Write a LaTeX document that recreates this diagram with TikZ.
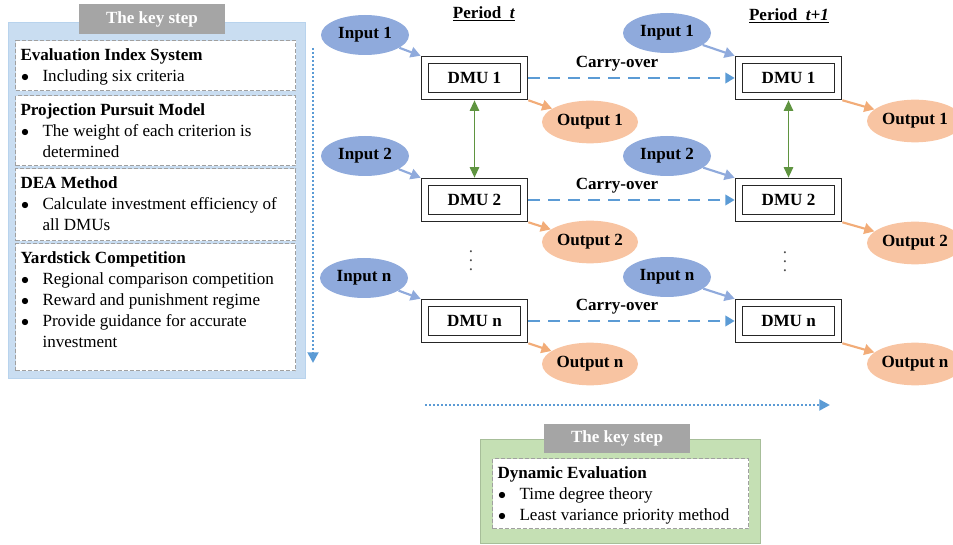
\documentclass[tikz,border=0pt]{standalone}
\usepackage{fontspec}
\setmainfont{Liberation Serif}
\usetikzlibrary{positioning, arrows.meta, shapes}
\definecolor{panelblue}{HTML}{C9DDF1}
\definecolor{panelgreen}{HTML}{C5E0B4}
\definecolor{tabgray}{HTML}{A5A5A5}
\definecolor{boxgray}{HTML}{A0A0A0}
\definecolor{inblue}{HTML}{8FAADC}
\definecolor{outpeach}{HTML}{F8C4A2}
\definecolor{outarrow}{HTML}{F2AC78}
\definecolor{flowblue}{HTML}{5B9BD5}
\definecolor{linkgreen}{HTML}{5F9440}

\newcommand{\stepbul}{\\\makebox[16.5pt][l]{\hspace{0.5pt}$\bullet$}}
\newcommand{\stepcont}{\\\hspace*{16.5pt}}
\newcommand{\steptext}[3]{\parbox[c][#1][t]{#2}{\raggedright\rule{0pt}{15pt}#3}}
\newcommand{\dmudots}{\vbox{\baselineskip=6.75pt\lineskiplimit=-5pt\hbox{.}\hbox{.}\hbox{.}}}

\begin{document}
\begin{tikzpicture}[x=0.75pt, y=-0.75pt,
    execute at begin picture={\fontsize{12.8pt}{15.75pt}\selectfont},
    keypanel/.style={anchor=north west, inner sep=0pt, line width=0.8pt},
    keytab/.style={fill=tabgray, text=white, font=\bfseries, minimum width=109.5pt, minimum height=22.5pt, inner sep=0pt},
    stepbox/.style={anchor=north west, draw=boxgray, dash pattern=on 3pt off 1.5pt, line width=0.8pt, fill=white, inner xsep=3.75pt, inner ysep=0pt},
    inp/.style={ellipse, fill=inblue, minimum width=66pt, minimum height=30pt, inner sep=0pt, font=\bfseries},
    outp/.style={ellipse, fill=outpeach, minimum width=72pt, minimum height=32pt, inner sep=0pt, font=\bfseries},
    dmu/.style={draw=black!85, double, double distance=4.6pt, line width=0.6pt, fill=white, minimum width=74pt, minimum height=26.6pt, inner sep=0pt, outer sep=3.4pt, font=\bfseries},
    inarrow/.style={-{Triangle[length=7.5pt,width=8pt]}, line width=1.6pt, draw=inblue},
    outarrow/.style={-{Triangle[length=7.5pt,width=8pt]}, line width=1.6pt, draw=outarrow},
    linkarrow/.style={{Triangle[length=8pt,width=7pt]}-{Triangle[length=8pt,width=7pt]}, line width=1.4pt, draw=linkgreen},
    carry/.style={-{Triangle[length=7pt,width=8pt]}, line width=1.3pt, draw=flowblue, dash pattern=on 9pt off 6pt},
    carrylabel/.style={pos=0.43, above, font=\bfseries, text=black},
    flow/.style={-{Triangle[length=8pt,width=8pt]}, line width=2pt, draw=flowblue, dash pattern=on 1.5pt off 1.5pt}]
  \useasboundingbox (0,0) rectangle (953,545);

  % left panel: the key steps
  \node[keypanel, fill=panelblue, draw=panelblue!85!flowblue, minimum width=222.75pt, minimum height=267pt] (leftpanel) at (8,22) {};
  \node[stepbox] (eis) at (15,40) {\steptext{37.5pt}{202.5pt}{\textbf{Evaluation Index System}\stepbul Including six criteria}};
  \node[stepbox] (ppm) at (15,95) {\steptext{52.5pt}{202.5pt}{\textbf{Projection Pursuit Model}\stepbul The weight of each criterion is\stepcont determined}};
  \node[stepbox] (dea) at (15,168) {\steptext{54pt}{202.5pt}{\textbf{DEA Method}\stepbul Calculate investment efficiency of\stepcont all DMUs}};
  \node[stepbox] (ysc) at (15,243) {\steptext{95.25pt}{202.5pt}{\textbf{Yardstick Competition}\stepbul Regional comparison competition\stepbul Reward and punishment regime\stepbul Provide guidance for accurate\stepcont investment}};
  \node[keytab] (tabL) at (152,19) {The key step};
  \coordinate (flowtop) at (313,48);
  \coordinate (flowbot) at (313,363);
  \draw[flow] (flowtop) -- (flowbot);

  % periods
  \node[font=\bfseries] (pert) at (484,14) {\underline{Period\ \ \textit{t}}};
  \node[font=\bfseries] (pernext) at (789,16) {\underline{Period\ \ \textit{t+1}}};

  \node[inp] (in1a) at (365,35) {Input 1};
  \node[inp] (in2a) at (365,156) {Input 2};
  \node[inp] (inna) at (364,278) {Input n};
  \node[inp] (in1b) at (667,33) {Input 1};
  \node[inp] (in2b) at (667,156) {Input 2};
  \node[inp] (innb) at (667,277) {Input n};

  \node[dmu] (dmu1a) at (474.5,78) {DMU 1};
  \node[dmu] (dmu2a) at (474.5,200) {DMU 2};
  \node[dmu] (dmuna) at (474.5,321) {DMU n};
  \node[dmu] (dmu1b) at (788.5,78) {DMU 1};
  \node[dmu] (dmu2b) at (788.5,200) {DMU 2};
  \node[dmu] (dmunb) at (788.5,321) {DMU n};

  \node[outp] (out1a) at (590,122) {Output 1};
  \node[outp] (out2a) at (590,242) {Output 2};
  \node[outp] (outna) at (590,364) {Output n};
  \node[outp] (out1b) at (915,121) {Output 1};
  \node[outp] (out2b) at (915,243) {Output 2};
  \node[outp] (outnb) at (915,364) {Output n};

  \node[text=black!70] (vdotsa) at (471,261) {\dmudots};
  \node[text=black!70] (vdotsb) at (785,262) {\dmudots};

  \draw (in1a) edge[inarrow] (dmu1a.north west);
  \draw (in2a) edge[inarrow] (dmu2a.north west);
  \draw (inna) edge[inarrow] (dmuna.north west);
  \draw (in1b) edge[inarrow] (dmu1b.north west);
  \draw (in2b) edge[inarrow] (dmu2b.north west);
  \draw (innb) edge[inarrow] (dmunb.north west);
  \draw (dmu1a.south east) edge[outarrow] (out1a);
  \draw (dmu2a.south east) edge[outarrow] (out2a);
  \draw (dmuna.south east) edge[outarrow] (outna);
  \draw (dmu1b.south east) edge[outarrow] (out1b);
  \draw (dmu2b.south east) edge[outarrow] (out2b);
  \draw (dmunb.south east) edge[outarrow] (outnb);
  \draw (dmu1a) edge[linkarrow] (dmu2a) edge[carry] node[carrylabel] {Carry-over} (dmu1b);
  \draw (dmu2a) edge[carry] node[carrylabel] {Carry-over} (dmu2b);
  \draw (dmuna) edge[carry] node[carrylabel] {Carry-over} (dmunb);
  \draw (dmu1b) edge[linkarrow] (dmu2b);

  % time direction
  \coordinate (timeL) at (425,405);
  \coordinate (timeR) at (830,405);
  \draw[flow] (timeL) -- (timeR);

  % bottom panel: dynamic evaluation
  \node[keypanel, fill=panelgreen, draw=panelgreen!85!black, minimum width=210pt, minimum height=78pt] (greenpanel) at (480,439) {};
  \node[stepbox] (dyn) at (492,458) {\steptext{52.5pt}{184.5pt}{\textbf{Dynamic Evaluation}\stepbul Time degree theory\stepbul Least variance priority method}};
  \node[keytab, minimum height=21.75pt] (tabB) at (617,438.5) {The key step};
\end{tikzpicture}
\end{document}
